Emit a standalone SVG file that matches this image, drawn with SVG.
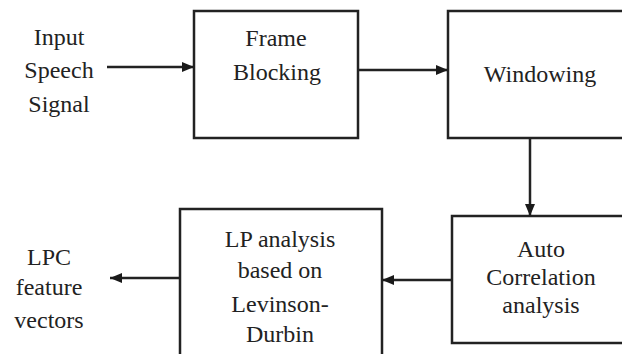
<svg xmlns="http://www.w3.org/2000/svg" width="622" height="354" viewBox="0 0 622 354">
<defs>
<marker id="ah" viewBox="0 0 12 10" refX="12" refY="5" markerWidth="12" markerHeight="10" markerUnits="userSpaceOnUse" orient="auto">
<path d="M0,0 L12,5 L0,10 Z" fill="#1a1a1a"/>
</marker>
</defs>
<style>
.box{fill:#fff;stroke:#222;stroke-width:2.5}
.t{font-size:24px;fill:#222;text-anchor:middle}
.c{stroke:#222;stroke-width:2.5;fill:none}
</style>
<rect width="622" height="354" fill="#fff"/>
<g font-family="Liberation Serif, serif">
<g id="input">
<text class="t" x="59" y="45">Input</text>
<text class="t" x="59" y="78">Speech</text>
<text class="t" x="59" y="112">Signal</text>
</g>
<g id="frame">
<rect class="box" x="194" y="11" width="164" height="127"/>
<text class="t" x="276" y="46">Frame</text>
<text class="t" x="277" y="80">Blocking</text>
</g>
<g id="windowing">
<rect class="box" x="448" y="11" width="200" height="127"/>
<text class="t" x="540" y="82" font-size="25">Windowing</text>
</g>
<g id="auto">
<rect class="box" x="452" y="216" width="200" height="127"/>
<text class="t" x="541" y="257">Auto</text>
<text class="t" x="541" y="285">Correlation</text>
<text class="t" x="541" y="313">analysis</text>
</g>
<g id="lp">
<rect class="box" x="180" y="209" width="202" height="160"/>
<text class="t" x="280" y="247">LP analysis</text>
<text class="t" x="280" y="278">based on</text>
<text class="t" x="280" y="312">Levinson-</text>
<text class="t" x="280" y="342">Durbin</text>
</g>
<g id="lpc">
<text class="t" x="49" y="265">LPC</text>
<text class="t" x="49" y="295">feature</text>
<text class="t" x="49" y="328">vectors</text>
</g>
</g>
<g id="connectors">
<line class="c" x1="107" y1="67" x2="194" y2="67" marker-end="url(#ah)"/>
<line class="c" x1="358" y1="70" x2="448" y2="70" marker-end="url(#ah)"/>
<line class="c" x1="530" y1="138" x2="530" y2="216" marker-end="url(#ah)"/>
<line class="c" x1="452" y1="280" x2="382" y2="280" marker-end="url(#ah)"/>
<line class="c" x1="180" y1="278" x2="110" y2="278" marker-end="url(#ah)"/>
</g>
</svg>
